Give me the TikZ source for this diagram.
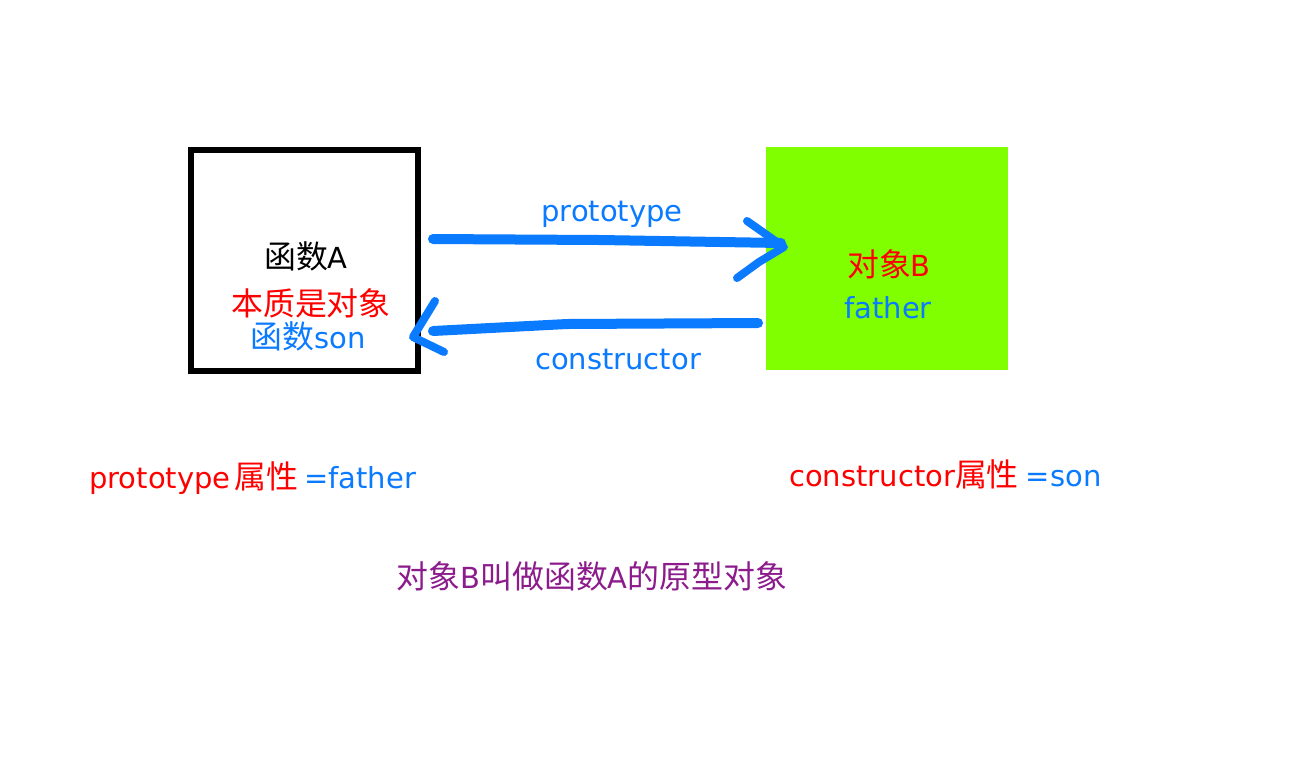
\documentclass[tikz,border=0pt]{standalone}
\usepackage{fontspec}
\setmainfont{DejaVu Sans}
\newfontfamily\cjk[Scale=1.1]{Noto Sans CJK SC}
\definecolor{jsblue}{RGB}{10,122,255}
\definecolor{jsred}{RGB}{255,0,0}
\definecolor{jsgreen}{RGB}{128,255,0}
\definecolor{jspurple}{RGB}{140,28,140}
\begin{document}
\begin{tikzpicture}[x=1pt,y=-1pt,
  lbl/.style={inner sep=0pt, anchor=base, font=\fontsize{29}{35}\selectfont},
  stroke/.style={draw=jsblue, line width=10pt, line cap=round, line join=round},
  tipstroke/.style={draw=jsblue, line width=8pt, line cap=round, line join=round}]
\useasboundingbox (0,0) rectangle (1316,756);
\fill[white] (0,0) rectangle (1316,756);
% boxes
\node[draw=black, line width=6pt, minimum width=227pt, minimum height=221pt, inner sep=0pt] (fa) at (304.5,260.5) {};
\node[fill=jsgreen, minimum width=242pt, minimum height=223pt, inner sep=0pt] (ob) at (887,258.5) {};
% texts in boxes
\node[lbl] (ta) at (306,268) {{\cjk 函数}A};
\node[lbl, text=jsred] (tb) at (311,315) {\cjk 本质是对象};
\node[lbl, text=jsblue] (tc) at (308,348) {{\cjk 函数}son};
\node[lbl, text=jsred] (td) at (889,276) {{\cjk 对象}B};
\node[lbl, text=jsblue] (te) at (888,318) {father};
% arrow labels
\node[lbl, text=jsblue] (tp) at (612,221) {prototype};
\node[lbl, text=jsblue] (tq) at (618,369) {constructor};
% lower texts
\node[lbl, anchor=base west] (tr) at (89,488) {\textcolor{jsred}{prototype\hspace{4pt}{\cjk 属性}}\hspace{6pt}\textcolor{jsblue}{=father}};
\node[lbl, anchor=base west] (ts) at (789,486) {\textcolor{jsred}{constructor{\cjk 属性}}\hspace{7pt}\textcolor{jsblue}{=son}};
\node[lbl, text=jspurple] (tt) at (592,588) {{\cjk 对象}B{\cjk 叫做函数}A{\cjk 的原型对象}};
% prototype arrow
\coordinate (p1) at (433,239);
\coordinate (p2) at (600,240);
\coordinate (p3) at (781,243);
\coordinate (pt) at (784,247);
\coordinate (pu) at (747,221);
\coordinate (pm) at (759,262);
\coordinate (pl) at (737,278);
\draw[stroke] (p1) -- (p2) -- (p3);
\draw[tipstroke] (pu) -- (pt) -- (pm) -- (pl);
% constructor arrow
\coordinate (c1) at (758,323);
\coordinate (c2) at (567,324);
\coordinate (c3) at (433,331);
\coordinate (ct) at (413,337);
\coordinate (cu) at (435,301);
\coordinate (cl) at (444,352);
\draw[stroke] (c1) -- (c2) -- (c3);
\draw[tipstroke] (cu) -- (ct) -- (cl);
\end{tikzpicture}
\end{document}
